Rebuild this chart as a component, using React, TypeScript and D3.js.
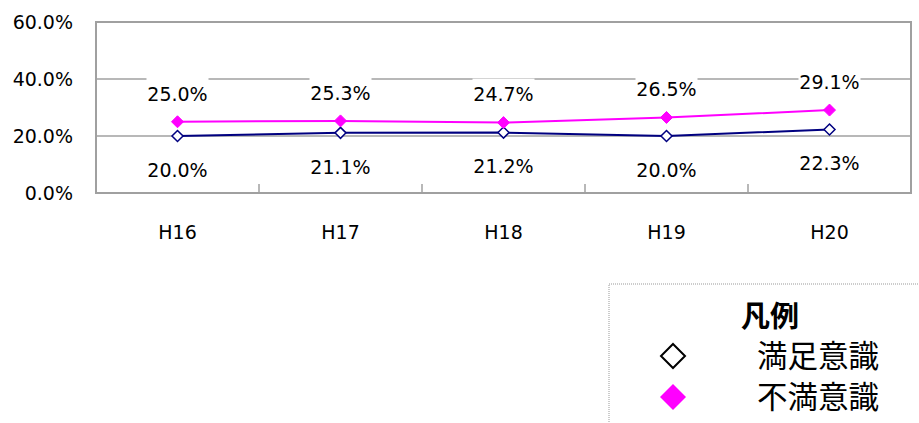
import React from "react";
import * as d3 from "d3";

const categories = ["H16", "H17", "H18", "H19", "H20"];
const satisfied = [20.0, 21.1, 21.2, 20.0, 22.3];
const dissatisfied = [25.0, 25.3, 24.7, 26.5, 29.1];
const yTicks = [0, 20, 40, 60];
const legendTitle = "凡例";
const seriesNames = ["満足意識", "不満意識"];

const W = 919;
const H = 423;
const plot = { left: 96, right: 911, top: 22, bottom: 193 };
const NAVY = "#000080";
const MAGENTA = "#ff00ff";
const GRID = "#a0a0a0";
const numFont = "'DejaVu Sans', sans-serif";
const jpFont = "'Noto Sans CJK JP', sans-serif";

const diamond = (cx: number, cy: number, r: number) =>
  `M${cx},${cy - r}L${cx + r},${cy}L${cx},${cy + r}L${cx - r},${cy}Z`;

export default function App() {
  const x = d3.scaleBand<string>().domain(categories).range([plot.left, plot.right]);
  const y = d3.scaleLinear().domain([0, 60]).range([plot.bottom, plot.top]);
  const cx = (c: string) => (x(c) ?? 0) + x.bandwidth() / 2;
  const line = d3
    .line<number>()
    .x((_, i) => cx(categories[i]))
    .y((d) => y(d));
  const fmt = (v: number) => v.toFixed(1) + "%";

  return (
    <svg width={W} height={H} style={{ position: "absolute", left: 0, top: 0 }}>
      <rect width={W} height={H} fill="#fff" />
      {/* gridlines */}
      {yTicks.slice(1, -1).map((t) => (
        <line key={t} x1={plot.left} x2={plot.right} y1={y(t)} y2={y(t)} stroke={GRID} strokeWidth={1.5} />
      ))}
      {/* white boxes behind upper labels */}
      {dissatisfied.map((v, i) => (
        <rect key={i} x={cx(categories[i]) - 31} y={y(v) - 44} width={62} height={34} fill="#fff" />
      ))}
      <rect
        x={plot.left}
        y={plot.top}
        width={plot.right - plot.left}
        height={plot.bottom - plot.top}
        fill="none"
        stroke={GRID}
        strokeWidth={2}
      />
      {categories.slice(1).map((c) => (
        <line key={c} x1={x(c)} x2={x(c)} y1={plot.bottom} y2={plot.bottom - 9} stroke={GRID} strokeWidth={1.5} />
      ))}
      {/* y labels */}
      {yTicks.map((t) => (
        <text key={t} x={73} y={y(t)} dy="0.36em" textAnchor="end" fontFamily={numFont} fontSize={19} fill="#000">
          {fmt(t)}
        </text>
      ))}
      {/* x labels */}
      {categories.map((c) => (
        <text key={c} x={cx(c)} y={232} dy="0.36em" textAnchor="middle" fontFamily={numFont} fontSize={19} fill="#000">
          {c}
        </text>
      ))}
      {/* lines */}
      <path d={line(satisfied) ?? ""} fill="none" stroke={NAVY} strokeWidth={2} />
      <path d={line(dissatisfied) ?? ""} fill="none" stroke={MAGENTA} strokeWidth={2} />
      {satisfied.map((v, i) => (
        <path key={i} d={diamond(cx(categories[i]), y(v), 5.5)} fill="#fff" stroke={NAVY} strokeWidth={1.5} />
      ))}
      {dissatisfied.map((v, i) => (
        <path key={i} d={diamond(cx(categories[i]), y(v), 6)} fill={MAGENTA} stroke={MAGENTA} strokeWidth={1} />
      ))}
      {/* data labels */}
      {dissatisfied.map((v, i) => (
        <text key={i} x={cx(categories[i])} y={y(v) - 28} dy="0.36em" textAnchor="middle" fontFamily={numFont} fontSize={19}>
          {fmt(v)}
        </text>
      ))}
      {satisfied.map((v, i) => (
        <text key={i} x={cx(categories[i])} y={y(v) + 34} dy="0.36em" textAnchor="middle" fontFamily={numFont} fontSize={19}>
          {fmt(v)}
        </text>
      ))}
      {/* legend */}
      <rect x={609} y={284} width={330} height={160} fill="#fff" stroke="#999" strokeWidth={1} strokeDasharray="1,1" />
      <text x={770} y={317} dy="0.36em" textAnchor="middle" fontFamily={jpFont} fontWeight="bold" fontSize={29}>
        {legendTitle}
      </text>
      <path d={diamond(673, 356, 12)} fill="#fff" stroke="#000" strokeWidth={2} />
      <path d={diamond(673, 397, 13)} fill={MAGENTA} />
      {seriesNames.map((s, i) => (
        <text key={s} x={757} y={356 + i * 41} dy="0.36em" fontFamily={jpFont} fontSize={30.5} fill="#000">
          {s}
        </text>
      ))}
    </svg>
  );
}
